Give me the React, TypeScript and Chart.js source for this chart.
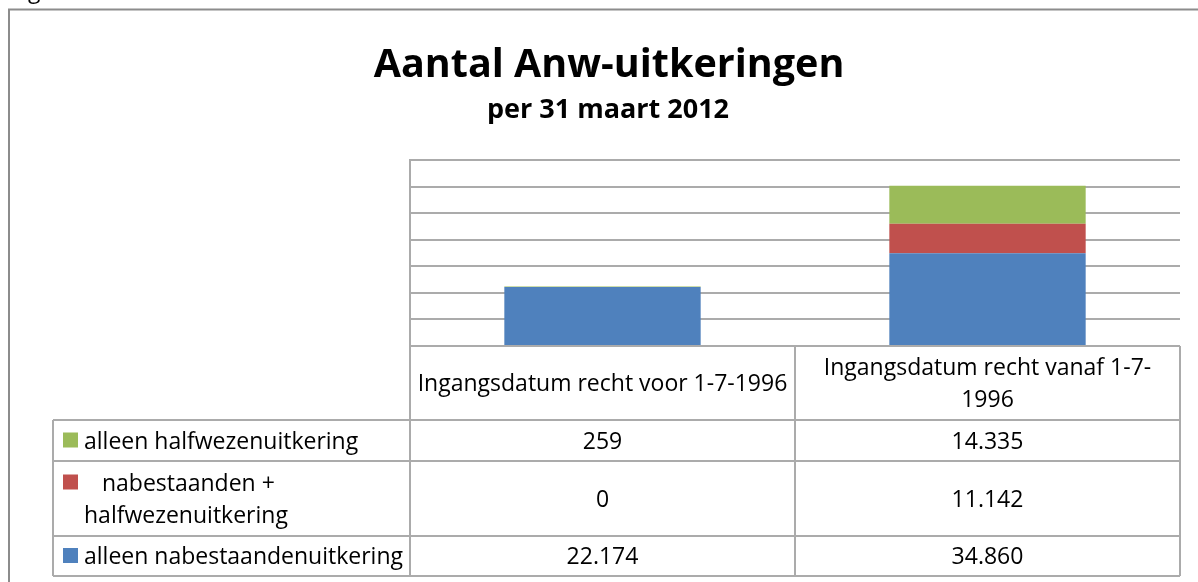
import React, { useEffect, useRef } from "react";
import { Chart, registerables } from "chart.js";

Chart.register(...registerables);

// ---- data ----
const chartTitle = "Aantal Anw-uitkeringen";
const chartSubtitle = "per 31 maart 2012";
const categoryLines = [
  ["Ingangsdatum recht voor 1-7-1996"],
  ["Ingangsdatum recht vanaf 1-7-", "1996"],
];
const seriesNames = [
  "alleen nabestaandenuitkering",
  "nabestaanden + halfwezenuitkering",
  "alleen halfwezenuitkering",
];
const seriesLabelLines = [
  ["alleen nabestaandenuitkering"],
  ["   nabestaanden +", "halfwezenuitkering"],
  ["alleen halfwezenuitkering"],
];
const alleenNabestaanden = [22174, 34860];
const nabestaandenHalfwezen = [0, 11142];
const alleenHalfwezen = [259, 14335];
const seriesColors = ["#4F81BD", "#C0504D", "#9BBB59"];
const yMin = 0;
const yMax = 70000;
const yStep = 10000;

const LINE = "#ababab";
const FONT = "'Open Sans', 'DejaVu Sans', sans-serif";

function fmt(v: number): string {
  return String(v).replace(/\B(?=(\d{3})+(?!\d))/g, ".");
}

const tablePlugin = {
  id: "tablePlugin",
  beforeDraw(chart: any) {
    const ctx = chart.ctx;
    ctx.save();
    ctx.fillStyle = "#fff";
    ctx.fillRect(0, 0, chart.width, chart.height);
    // frame
    ctx.strokeStyle = "#8c8c8c";
    ctx.lineWidth = 2;
    ctx.beginPath();
    ctx.moveTo(9, chart.height + 5);
    ctx.lineTo(9, 9.5);
    ctx.lineTo(chart.width + 5, 9.5);
    ctx.stroke();
    // fragment of text above the frame
    ctx.fillStyle = "#000";
    ctx.font = `23px ${FONT}`;
    ctx.textBaseline = "alphabetic";
    ctx.textAlign = "left";
    ctx.fillText("g", 28, -2);
    ctx.restore();
  },
  afterDraw(chart: any) {
    const ctx = chart.ctx;
    const area = chart.chartArea;
    const xs = chart.scales.x;
    const n = categoryLines.length;
    const centers = categoryLines.map((_, i) => xs.getPixelForValue(i));
    const bounds: number[] = [area.left];
    for (let i = 0; i < n - 1; i++) bounds.push((centers[i] + centers[i + 1]) / 2);
    bounds.push(area.right);

    ctx.save();
    // titles
    ctx.fillStyle = "#000";
    ctx.textAlign = "center";
    ctx.textBaseline = "alphabetic";
    ctx.font = `bold 39.5px ${FONT}`;
    ctx.fillText(chartTitle, 609, 77);
    ctx.font = `bold 27px ${FONT}`;
    ctx.fillText(chartSubtitle, 608, 118);

    // table geometry
    const headerTop = area.bottom;
    const headerBottom = headerTop + 74;
    const rowHeights = [41, 75, 40];
    const labelLeft = 53;
    const rowTops: number[] = [headerBottom];
    rowHeights.forEach((h, i) => rowTops.push(rowTops[i] + h));
    const tableBottom = rowTops[rowTops.length - 1];

    ctx.strokeStyle = LINE;
    ctx.lineWidth = 2;
    ctx.beginPath();
    ctx.moveTo(area.left, headerTop);
    ctx.lineTo(area.right, headerTop);
    rowTops.forEach((y) => {
      ctx.moveTo(labelLeft, y);
      ctx.lineTo(area.right, y);
    });
    ctx.moveTo(labelLeft, headerBottom);
    ctx.lineTo(labelLeft, tableBottom);
    bounds.forEach((x) => {
      ctx.moveTo(x, headerTop);
      ctx.lineTo(x, tableBottom);
    });
    ctx.stroke();

    ctx.font = `23px ${FONT}`;
    ctx.fillStyle = "#000";
    const lh = 32;
    // header
    categoryLines.forEach((lines, i) => {
      const cy = (headerTop + headerBottom) / 2;
      const y0 = cy - ((lines.length - 1) * lh) / 2 + 8;
      lines.forEach((t, j) => ctx.fillText(t, centers[i], y0 + j * lh));
    });

    // rows: top to bottom = reversed series order
    const order = seriesNames.map((_, i) => seriesNames.length - 1 - i);
    const values = [alleenNabestaanden, nabestaandenHalfwezen, alleenHalfwezen];
    order.forEach((s, r) => {
      const top = rowTops[r];
      const bot = rowTops[r + 1];
      const cy = (top + bot) / 2;
      const lines = seriesLabelLines[s];
      const y0 = cy - ((lines.length - 1) * lh) / 2 + 8;
      ctx.fillStyle = seriesColors[s];
      ctx.fillRect(63, y0 - 16, 15, 15);
      ctx.fillStyle = "#000";
      ctx.textAlign = "left";
      lines.forEach((t, j) => ctx.fillText(t, 84, y0 + j * lh));
      ctx.textAlign = "center";
      values[s].forEach((v, i) => ctx.fillText(fmt(v), centers[i], cy + 8));
    });
    ctx.restore();
  },
};

export default function App() {
  const ref = useRef<HTMLCanvasElement | null>(null);
  useEffect(() => {
    if (!ref.current) return;
    const chart = new Chart(ref.current, {
      type: "bar",
      data: {
        labels: categoryLines,
        datasets: [
          { label: seriesNames[0], data: alleenNabestaanden, backgroundColor: seriesColors[0] },
          { label: seriesNames[1], data: nabestaandenHalfwezen, backgroundColor: seriesColors[1] },
          { label: seriesNames[2], data: alleenHalfwezen, backgroundColor: seriesColors[2] },
        ],
      },
      options: {
        animation: false,
        responsive: false,
        devicePixelRatio: 1,
        layout: { padding: { left: 410, right: 18, top: 160, bottom: 236 } },
        datasets: { bar: { barPercentage: 0.51, categoryPercentage: 1 } },
        plugins: {
          legend: { display: false },
          title: { display: false },
          tooltip: { enabled: false },
        },
        scales: {
          x: { stacked: true, display: false, offset: true, grid: { display: false } },
          y: {
            stacked: true,
            min: yMin,
            max: yMax,
            ticks: { stepSize: yStep, display: false },
            grid: { color: LINE, lineWidth: 2, drawTicks: false },
            border: { display: true, color: LINE, width: 2 },
          },
        },
      } as any,
      plugins: [tablePlugin],
    });
    return () => chart.destroy();
  }, []);
  return (
    <div style={{ position: "fixed", left: 0, top: 0, width: 1198, height: 582 }}>
      <canvas ref={ref} width={1198} height={582} style={{ display: "block" }} />
    </div>
  );
}
